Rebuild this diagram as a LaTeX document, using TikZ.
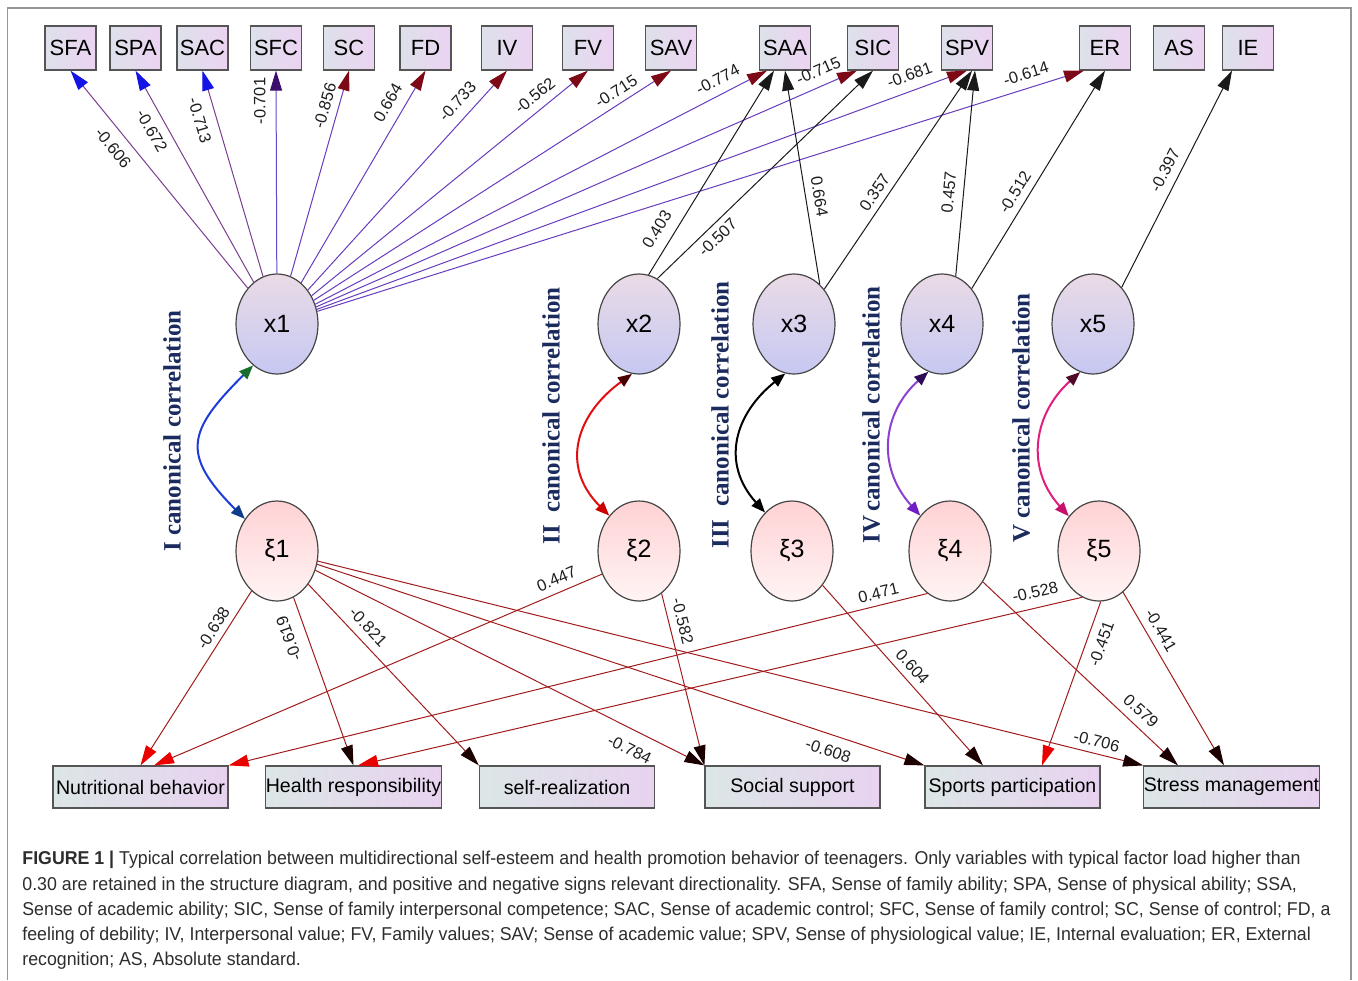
\documentclass[tikz,border=0pt]{standalone}
\usepackage{fontspec}
\setmainfont{Liberation Sans}
\newfontfamily\serifb{Liberation Serif}
\newfontfamily\capfont{Liberation Sans}[FakeStretch=0.955]
\usepackage{tikz}
\usetikzlibrary{shapes.geometric,arrows.meta}
\definecolor{boxline}{RGB}{85, 85, 85}
\definecolor{obsl}{RGB}{221, 225, 234}
\definecolor{obsr}{RGB}{236, 211, 242}
\definecolor{behl}{RGB}{220, 230, 230}
\definecolor{behr}{RGB}{232, 210, 240}
\definecolor{ellline}{RGB}{70, 70, 70}
\definecolor{xtop}{RGB}{234, 219, 230}
\definecolor{xbot}{RGB}{198, 200, 242}
\definecolor{xitop}{RGB}{255, 210, 212}
\definecolor{xibot}{RGB}{255, 244, 244}
\definecolor{lbltext}{RGB}{30, 30, 30}
\definecolor{canonc}{RGB}{28, 43, 94}
\definecolor{fanl}{RGB}{122, 62, 142}
\definecolor{fanm}{RGB}{100, 70, 205}
\definecolor{fanr}{RGB}{104, 60, 190}
\definecolor{headblue}{RGB}{20, 20, 230}
\definecolor{headind}{RGB}{60, 15, 110}
\definecolor{headmar}{RGB}{125, 8, 22}
\definecolor{blk}{RGB}{25, 25, 25}
\definecolor{bline}{RGB}{160, 28, 28}
\definecolor{headred}{RGB}{235, 0, 0}
\definecolor{headdark}{RGB}{28, 0, 0}
\definecolor{cblue}{RGB}{30, 60, 215}
\definecolor{cgreen}{RGB}{25, 110, 45}
\definecolor{cnavy}{RGB}{15, 60, 140}
\definecolor{cred}{RGB}{225, 15, 15}
\definecolor{cmaroon}{RGB}{75, 0, 0}
\definecolor{cred2}{RGB}{205, 0, 0}
\definecolor{cpurp}{RGB}{140, 65, 210}
\definecolor{cpurpd}{RGB}{45, 12, 90}
\definecolor{cpurp2}{RGB}{110, 30, 195}
\definecolor{cmag}{RGB}{225, 30, 125}
\definecolor{cmagd}{RGB}{80, 10, 40}
\definecolor{cmag2}{RGB}{200, 15, 105}
\definecolor{framec}{RGB}{150, 150, 150}
\definecolor{captext}{RGB}{45, 45, 45}

\tikzset{
  obs/.style     = {draw=boxline, line width=0.6pt, left color=obsl, right color=obsr,
                    minimum width=25.5pt, minimum height=22pt, inner sep=0pt, font=\fontsize{11}{11}\selectfont},
  beh/.style     = {draw=boxline, line width=0.6pt, left color=behl, right color=behr,
                    minimum width=87.5pt, minimum height=21pt, inner sep=0pt, font=\fontsize{9.8}{9.8}\selectfont},
  latx/.style    = {ellipse, draw=ellline, line width=0.6pt, top color=xtop, bottom color=xbot,
                    minimum width=41pt, minimum height=50pt, inner sep=0pt, font=\fontsize{12.5}{12.5}\selectfont},
  latxi/.style   = {latx, top color=xitop, bottom color=xibot},
  loadln/.style  = {line width=0.5pt},
  tipto/.style   = {arrows={-Triangle[length=10pt, width=6pt, color=#1]}},
  twohead/.style 2 args = {arrows={Triangle[length=7pt, width=5.5pt, color=#1]-Triangle[length=7pt, width=5.5pt, color=#2]}},
  tored/.style   = {loadln, draw=bline, tipto=headred},
  todark/.style  = {loadln, draw=bline, tipto=headdark},
  lbl/.style     = {sloped, inner sep=1pt, text=lbltext, font=\fontsize{8.2}{8.2}\selectfont},
  canon/.style   = {rotate=90, text=canonc, font=\serifb\bfseries\fontsize{12.5}{12.5}\selectfont},
  curv/.style    = {line width=1pt}
}

\begin{document}
\begin{tikzpicture}[x=0.5pt, y=-0.5pt]
\useasboundingbox (0,0) rectangle (1358,980);
\draw[framec, line width=0.8pt] (7.5,980) -- (7.5,8) -- (1351,8) -- (1351,980);

% observed variables, top row
\node[obs] (sfa) at (  70.5,48) {SFA};
\node[obs] (spa) at ( 135.5,48) {SPA};
\node[obs] (sac) at ( 202.5,48) {SAC};
\node[obs] (sfc) at ( 276.0,48) {SFC};
\node[obs] (sc)  at ( 349.0,48) {SC};
\node[obs] (fd)  at ( 425.5,48) {FD};
\node[obs] (iv)  at ( 507.0,48) {IV};
\node[obs] (fv)  at ( 588.0,48) {FV};
\node[obs] (sav) at ( 671.0,48) {SAV};
\node[obs] (saa) at ( 785.0,48) {SAA};
\node[obs] (sic) at ( 873.0,48) {SIC};
\node[obs] (spv) at ( 967.0,48) {SPV};
\node[obs] (er)  at (1105.0,48) {ER};
\node[obs] (as)  at (1179.0,48) {AS};
\node[obs] (ie)  at (1248.0,48) {IE};

% behaviours, bottom row
\node[beh] (nut) at ( 140.5,787) {Nutritional behavior};
\node[beh] (hea) at ( 353.5,787) {Health responsibility};
\node[beh] (slf) at ( 567.0,787) {self-realization};
\node[beh] (soc) at ( 792.5,787) {Social support};
\node[beh] (spo) at (1012.5,787) {Sports participation};
\node[beh] (str) at (1231.5,787) {Stress management};

% canonical variates
\node[latx]  (x1)  at ( 277,324) {x1};
\node[latx]  (x2)  at ( 639,324) {x2};
\node[latx]  (x3)  at ( 794,324) {x3};
\node[latx]  (x4)  at ( 942,324) {x4};
\node[latx]  (x5)  at (1093,324) {x5};
\node[latxi] (xi1) at ( 277,551) {ξ1};
\node[latxi] (xi2) at ( 639,551) {ξ2};
\node[latxi] (xi3) at ( 792,551) {ξ3};
\node[latxi] (xi4) at ( 950,551) {ξ4};
\node[latxi] (xi5) at (1099,551) {ξ5};

\node[canon] (c1) at ( 172,431) {I canonical correlation};
\node[canon] (c2) at ( 551,416) {II\ \ canonical correlation};
\node[canon] (c3) at ( 720,415) {III\ \ canonical correlation};
\node[canon] (c4) at ( 871,415) {IV\,canonical correlation};
\node[canon] (c5) at (1021,418) {V canonical correlation};

% x1 loadings
\draw[loadln, draw=fanl, tipto=headblue] (x1) -- node[lbl, pos=.69,  below=3.8pt] (l01) {-0.606} (sfa.south);
\draw[loadln, draw=fanl, tipto=headblue] (x1) -- node[lbl, pos=.75,  below=3.4pt] (l02) {-0.672} (spa.south);
\draw[loadln, draw=fanl, tipto=headblue] (x1) -- node[lbl, pos=.78,  below=4.2pt] (l03) {-0.713} (sac.south);
\draw[loadln, draw=fanm, tipto=headind]  (x1) -- node[lbl, pos=.85, rotate=180, above=4pt] (l04) {-0.701} (sfc.south);
\draw[loadln, draw=fanr, tipto=headmar]  (x1) -- node[lbl, pos=.81,  above=2.7pt] (l05) {-0.856} (sc.south);
\draw[loadln, draw=fanr, tipto=headmar]  (x1) -- node[lbl, pos=.81,  above=4pt]   (l06) {0.664}  (fd.south);
\draw[loadln, draw=fanr, tipto=headmar]  (x1) -- node[lbl, pos=.81,  above=3.8pt] (l07) {-0.733} (iv.south);
\draw[loadln, draw=fanr, tipto=headmar]  (x1) -- node[lbl, pos=.84,  above=3pt]   (l08) {-0.562} (fv.south);
\draw[loadln, draw=fanr, tipto=headmar]  (x1) -- node[lbl, pos=.865, above=2pt]   (l09) {-0.715} (sav.south);
\draw[loadln, draw=fanr, tipto=headmar]  (x1) -- node[lbl, pos=.906, above=3.3pt] (l10) {-0.774} ([xshift=-9pt]saa.south);
\draw[loadln, draw=fanr, tipto=headmar]  (x1) -- node[lbl, pos=.94,  above=3.6pt] (l11) {-0.715} ([xshift=-8pt]sic.south);
\draw[loadln, draw=fanr, tipto=headmar]  (x1) -- node[lbl, pos=.92,  above=3.7pt] (l12) {-0.681} (spv.south);
\draw[loadln, draw=fanr, tipto=headmar]  (x1) -- node[lbl, pos=.93,  above=3pt]   (l13) {-0.614} ([xshift=-10.5pt]er.south);

% x2 to x5 loadings
\draw[loadln, draw=blk, tipto=blk] (x2.79) -- node[lbl, pos=.18, above=4.2pt] (l14) {0.403}  ([xshift=-5.5pt]saa.south);
\draw[loadln, draw=blk, tipto=blk] (x2.68) -- node[lbl, pos=.24, below=2pt]   (l15) {-0.507} (sic.south);
\draw[loadln, draw=blk, tipto=blk] (x3.57) -- node[lbl, pos=.40, above=2.7pt] (l16) {0.664}  (saa.south);
\draw[loadln, draw=blk, tipto=blk] (x3.49) -- node[lbl, pos=.41, above=2pt]   (l17) {0.357}  ([xshift=2.5pt]spv.south);
\draw[loadln, draw=blk, tipto=blk] (x4.74) -- node[lbl, pos=.40, above=3.2pt] (l18) {0.457}  ([xshift=4pt]spv.south);
\draw[loadln, draw=blk, tipto=blk] (x4.50) -- node[lbl, pos=.41, above=2.6pt] (l19) {-0.512} (er.south);
\draw[loadln, draw=blk, tipto=blk] (x5.52) -- node[lbl, pos=.51, above=3.2pt] (l20) {-0.397} ([xshift=-8pt]ie.south);

% xi loadings
\draw[tored]  (xi1)     -- node[lbl, pos=.25, above=2pt]   (m01) {-0.638} (nut.north);
\draw[todark] (xi1)     -- node[lbl, pos=.21, rotate=180, above=5pt] (m02) {-0.619} (hea.north);
\draw[todark] (xi1)     -- node[lbl, pos=.29, above=3pt]   (m03) {-0.821} (slf.north west);
\draw[todark] (xi1)     -- node[lbl, pos=.83, below=5.5pt] (m04) {-0.784} (soc.north west);
\draw[todark] (xi1)     -- node[lbl, pos=.85, below=4pt]   (m05) {-0.608} (spo.north west);
\draw[todark] (xi1)     -- node[lbl, pos=.94, above=2pt]   (m06) {-0.706} (str.north west);
\draw[tored]  (xi2.212) -- node[lbl, pos=.09, above=2.5pt] (m07) {0.447}  ([xshift=6.75pt]nut.north);
\draw[todark] (xi2.298) -- node[lbl, pos=.18, above=2.7pt] (m08) {-0.582} (soc.north west);
\draw[todark] (xi3)     -- node[lbl, pos=.50, above=2.4pt] (m09) {0.604}  ([xshift=-14.75pt]spo.north);
\draw[tored]  (xi4.242) -- node[lbl, pos=.066,above=2pt]   (m10) {0.471}  (nut.north east);
\draw[todark] (xi4)     -- node[lbl, pos=.76, above=3pt]   (m11) {0.579}  ([xshift=-26.75pt]str.north);
\draw[tored]  (xi5.250) -- node[lbl, pos=.06, above=3.7pt] (m12) {-0.528} ([xshift=2.25pt]hea.north);
\draw[tored]  (xi5.272) -- node[lbl, pos=.225,below=3.2pt] (m13) {-0.451} ([xshift=14.75pt]spo.north);
\draw[todark] (xi5)     -- node[lbl, pos=.26, above=2.6pt] (m14) {-0.441} ([xshift=-3.75pt]str.north);

% canonical correlations
\draw[curv, draw=cblue, twohead={cgreen}{cnavy}]   (x1.240) .. controls +(-65,65) and +(-65,-65) .. (xi1.135);
\draw[curv, draw=cred,  twohead={cmaroon}{cred2}]  (x2.262) .. controls +(-55,40) and +(-50,-50) .. (xi2.130);
\draw[curv, draw=black, twohead={black}{black}]    (x3.260) .. controls +(-50,40) and +(-45,-50) .. (xi3.125);
\draw[curv, draw=cpurp, twohead={cpurpd}{cpurp2}]  (x4.254) .. controls +(-45,40) and +(-45,-50) .. (xi4.130);
\draw[curv, draw=cmag,  twohead={cmagd}{cmag2}]    (x5.255) .. controls +(-45,40) and +(-45,-50) .. (xi5.131);

\node[anchor=north west, inner sep=0pt, align=left, text=captext,
      font=\capfont\fontsize{9.3}{12.6}\selectfont] (caption) at (22,851)
  {\textbf{FIGURE 1 |} Typical correlation between multidirectional self-esteem and health promotion behavior of teenagers. Only variables with typical factor load higher than\\
   0.30 are retained in the structure diagram, and positive and negative signs relevant directionality. SFA, Sense of family ability; SPA, Sense of physical ability; SSA,\\
   Sense of academic ability; SIC, Sense of family interpersonal competence; SAC, Sense of academic control; SFC, Sense of family control; SC, Sense of control; FD, a\\
   feeling of debility; IV, Interpersonal value; FV, Family values; SAV; Sense of academic value; SPV, Sense of physiological value; IE, Internal evaluation; ER, External\\
   recognition; AS, Absolute standard.};
\end{tikzpicture}
\end{document}
